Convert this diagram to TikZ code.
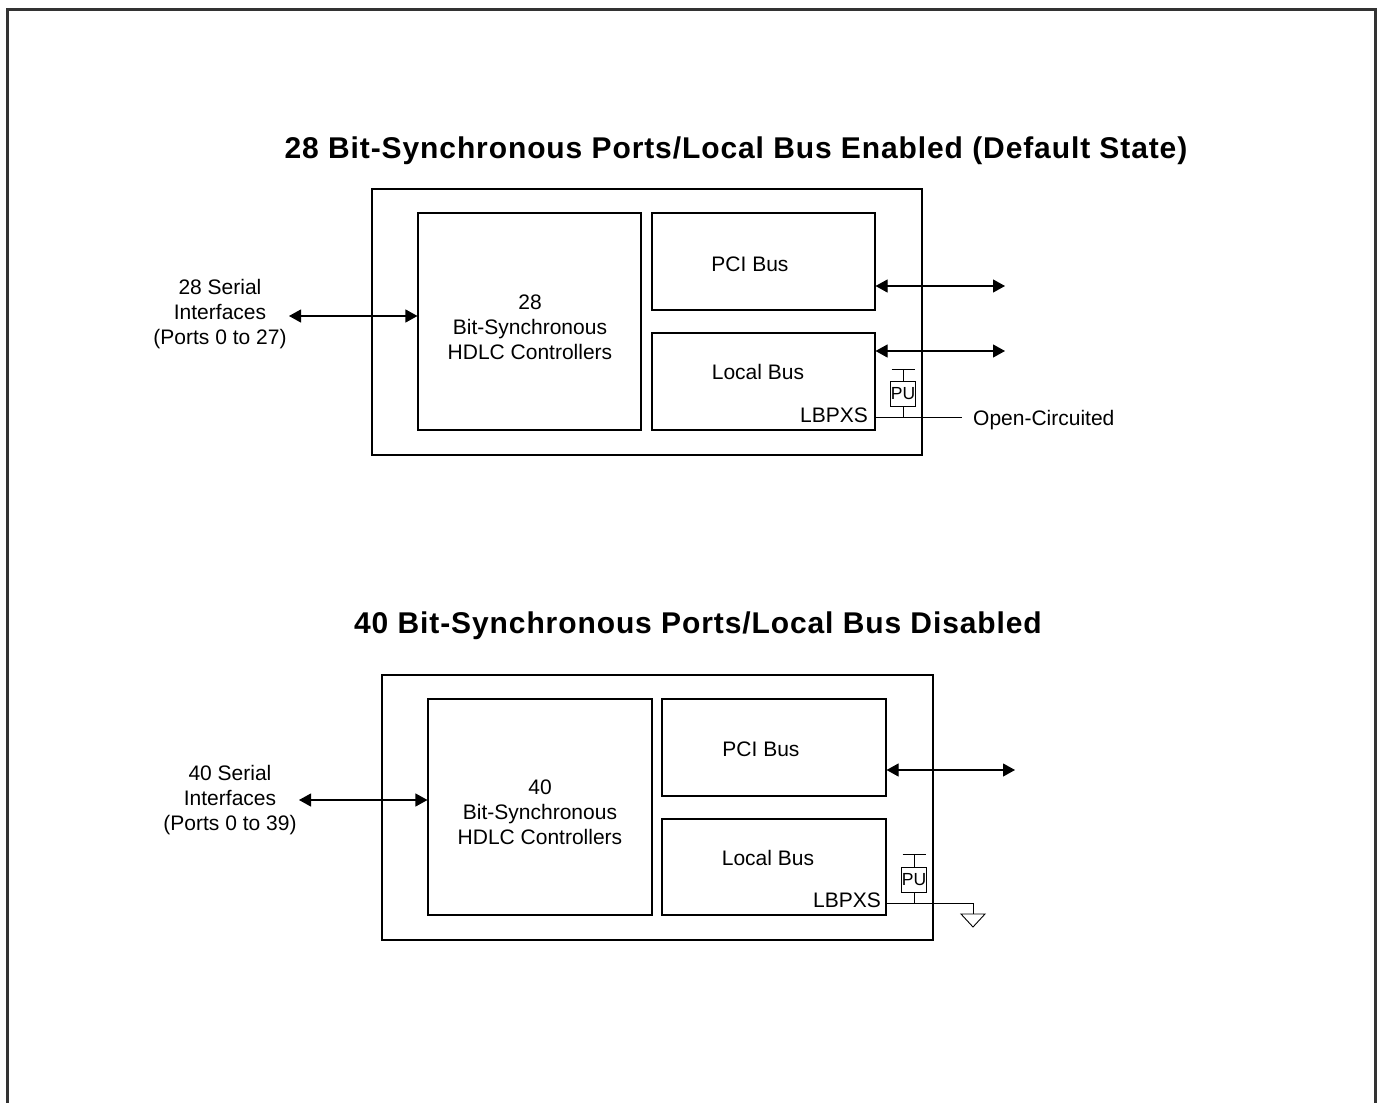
\documentclass[tikz,border=0pt]{standalone}
\usepackage{fontspec}
\setmainfont{Liberation Sans}
\newfontfamily\titlefont[LetterSpace=3]{Liberation Sans}
\usetikzlibrary{positioning, arrows.meta}

\begin{document}
\begin{tikzpicture}[x=1pt, y=-1pt,
  block/.style={draw, line width=1.1pt, inner sep=0pt},
  txt/.style={align=center, inner sep=0pt, font=\fontsize{21}{25}\selectfont},
  heading/.style={inner sep=0pt, font=\titlefont\bfseries\fontsize{30}{34}\selectfont},
  biarrow/.style={{Triangle[length=12pt,width=13pt]}-{Triangle[length=12pt,width=13pt]}, line width=1.1pt},
  pubox/.style={draw, line width=0.9pt, minimum width=24pt, minimum height=25pt, inner sep=0pt, font=\fontsize{17.5}{17.5}\selectfont},
  wire/.style={line width=0.9pt}]

\useasboundingbox (0,0) rectangle (1377,1103);
% page frame, open at the bottom
\draw[line width=3pt, black!80] (7,1103) -- (7,9) -- (1375,9) -- (1375,1103);

% ---- upper case: local bus enabled
\node[heading, anchor=base] (titleA) at (736,158) {28 Bit-Synchronous Ports/Local Bus Enabled (Default State)};
\node[block, minimum width=550pt, minimum height=266pt] (chipA) at (647,322) {};
\node[block, minimum width=223pt, minimum height=217pt] (hdlcA) at (529.5,321.5) {};
\node[block, minimum width=223pt, minimum height=97pt] (pciA) at (763.5,261.5) {};
\node[block, minimum width=223pt, minimum height=97pt] (lbA) at (763.5,381.5) {};

\node[txt] (hdlcTxtA) at (530,327) {28\\Bit-Synchronous\\HDLC Controllers};
\node[txt, anchor=base] (pciTxtA) at (750,271.5) {PCI Bus};
\node[txt, anchor=base] (lbTxtA) at (758,379.5) {Local Bus};
\node[txt, anchor=base east] (pinTxtA) at (868,422) {LBPXS};
\node[txt] (serTxtA) at (220,314) {28 Serial\\Interfaces\\(Ports 0 to 27)};

\coordinate (serA) at (289,316);
\draw[biarrow] (serA) -- (serA -| hdlcA.west);
\coordinate (pciOutA) at (1005,286);
\draw[biarrow] (pciOutA -| pciA.east) -- (pciOutA);
\coordinate (lbOutA) at (1005,351);
\draw[biarrow] (lbOutA -| lbA.east) -- (lbOutA);

% pull-up on LBPXS, pin left open
\node[pubox] (puA) at (903,393.5) {PU};
\draw[wire] (puA.north) -- ++(0,-11) coordinate (vccA);
\draw[wire] (vccA) ++(-11.5,0) -- ++(23,0);
\coordinate (ocA) at (962,417);
\draw[wire] (lbA.east |- ocA) -- (ocA);
\draw[wire] (puA.south) -- (puA.south |- ocA);
\node[txt, anchor=base west] (ocTxtA) at (973,425) {Open-Circuited};

% ---- lower case: local bus disabled
\node[heading, anchor=base] (titleB) at (698,633) {40 Bit-Synchronous Ports/Local Bus Disabled};
\node[block, minimum width=551pt, minimum height=265pt] (chipB) at (657.5,807.5) {};
\node[block, minimum width=224pt, minimum height=216pt] (hdlcB) at (540,807) {};
\node[block, minimum width=224pt, minimum height=97pt] (pciB) at (774,747.5) {};
\node[block, minimum width=224pt, minimum height=96pt] (lbB) at (774,867) {};

\node[txt] (hdlcTxtB) at (540,812) {40\\Bit-Synchronous\\HDLC Controllers};
\node[txt, anchor=base] (pciTxtB) at (761,756.5) {PCI Bus};
\node[txt, anchor=base] (lbTxtB) at (768,865.5) {Local Bus};
\node[txt, anchor=base east] (pinTxtB) at (881,907) {LBPXS};
\node[txt] (serTxtB) at (230,800) {40 Serial\\Interfaces\\(Ports 0 to 39)};

\coordinate (serB) at (299,800);
\draw[biarrow] (serB) -- (serB -| hdlcB.west);
\coordinate (pciOutB) at (1015,770);
\draw[biarrow] (pciOutB -| pciB.east) -- (pciOutB);

% pull-up on LBPXS, pin tied to ground
\node[pubox] (puB) at (914,879.5) {PU};
\draw[wire] (puB.north) -- ++(0,-12) coordinate (vccB);
\draw[wire] (vccB) ++(-11.5,0) -- ++(23,0);
\coordinate (gndB) at (973,914);
\coordinate (pinB) at (886,903);
\draw[wire] (pinB) -- (pinB -| gndB) -- (gndB);
\draw[wire] (puB.south) -- (puB.south |- pinB);
\draw[wire] (gndB) ++(-12,0) -- ++(24,0) -- ++(-12,13) -- cycle;

\end{tikzpicture}
\end{document}
